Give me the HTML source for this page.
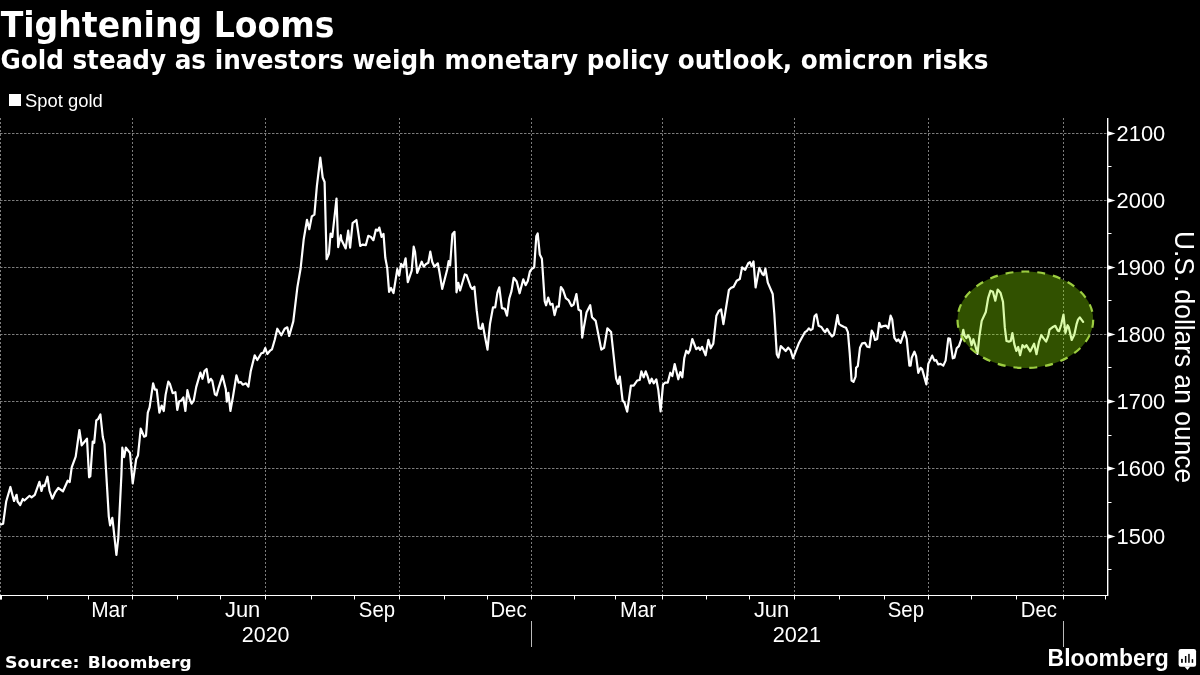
<!DOCTYPE html>
<html><head><meta charset="utf-8"><title>Tightening Looms</title>
<style>
html,body{margin:0;padding:0;background:#000;width:1200px;height:675px;overflow:hidden}
svg{display:block;position:absolute;left:0;top:0;will-change:transform}
.g{stroke:#7c7c7c;stroke-width:1;stroke-dasharray:2.5 1.5;fill:none}
.gv{stroke:#7c7c7c;stroke-width:1;stroke-dasharray:2 2;fill:none}
.ax{stroke:#fff;stroke-width:1;fill:none}
.sep{stroke:#bbb;stroke-width:1}
.pl{fill:none;stroke:#fff;stroke-width:2.2;stroke-linejoin:round;stroke-linecap:round}
.eo{fill:rgba(148,242,0,0.335)}
.eb{fill:none;stroke:#9ccd40;stroke-width:2.2;stroke-dasharray:8 8}
.yl,.xl{font-family:"Liberation Sans",sans-serif;font-size:22.6px;fill:#fff}
.at{font-family:"Liberation Sans",sans-serif;font-size:27.5px;fill:#fff}
.t1{font-family:"DejaVu Sans",sans-serif;font-weight:bold;font-size:34.8px;fill:#fff}
.t2{font-family:"DejaVu Sans",sans-serif;font-weight:bold;font-size:26px;fill:#fff}
.lg{font-family:"Liberation Sans",sans-serif;font-size:18px;fill:#fff}
.src{font-family:"DejaVu Sans",sans-serif;font-weight:bold;font-size:16.7px;fill:#fff}
.logo{font-family:"Liberation Sans",sans-serif;font-weight:bold;font-size:23px;fill:#fff}
</style></head>
<body>
<svg width="1200" height="675" viewBox="0 0 1200 675">
<line x1="0" y1="133.5" x2="1107" y2="133.5" class="g"/>
<line x1="0" y1="200.5" x2="1107" y2="200.5" class="g"/>
<line x1="0" y1="267.5" x2="1107" y2="267.5" class="g"/>
<line x1="0" y1="334.5" x2="1107" y2="334.5" class="g"/>
<line x1="0" y1="401.5" x2="1107" y2="401.5" class="g"/>
<line x1="0" y1="468.5" x2="1107" y2="468.5" class="g"/>
<line x1="0" y1="536.5" x2="1107" y2="536.5" class="g"/>
<line x1="0.5" y1="118" x2="0.5" y2="595" class="gv"/>
<line x1="132.5" y1="118" x2="132.5" y2="595" class="gv"/>
<line x1="265.5" y1="118" x2="265.5" y2="595" class="gv"/>
<line x1="399.5" y1="118" x2="399.5" y2="595" class="gv"/>
<line x1="531.5" y1="118" x2="531.5" y2="595" class="gv"/>
<line x1="662.5" y1="118" x2="662.5" y2="595" class="gv"/>
<line x1="794.5" y1="118" x2="794.5" y2="595" class="gv"/>
<line x1="928.5" y1="118" x2="928.5" y2="595" class="gv"/>
<line x1="1063.5" y1="118" x2="1063.5" y2="595" class="gv"/>
<polyline points="0,524.3 1.6,524.3 3.1,523.8 6.2,501.5 10.4,487 11.4,491 14,501 16.6,494.8 17.6,501.5 20.2,505 22.8,499 24.4,500.5 29.6,495.8 31.6,497.3 34.8,494.8 39.4,481.8 41.5,491 43,485.4 44.6,486 47.4,476.7 49.6,491 52.3,498.7 55,492.7 58.3,488 63,491.3 67.7,480.7 69.7,482 71.7,467.3 75.7,456.7 79.4,430 81.7,445.3 87,438.7 89.1,477.3 90.3,476.1 92.7,441.7 94.2,442.9 96.3,420.4 98,419.2 100.4,414.5 102.8,437 104.5,444.1 108.8,516.6 110.1,525.4 112.3,517.8 113.2,525.4 116.4,555 118.3,538 121.4,475 122.3,447.7 124.1,457.1 125.9,447.7 130,453 132.7,483.5 136.2,459 138,455.4 140.7,428.7 144.2,436.7 146,435.8 147.8,412.7 149.6,407.4 153.1,383.3 154.9,389.6 156.7,389.6 159.4,412.7 161.7,405.6 163.8,411 165.6,394.9 168.3,381.6 170,384.2 172.7,393.1 175.4,392.2 177.3,409.9 179.1,401.6 181.2,400.6 183.3,397.5 185.4,411 187.4,390.2 189.5,398.5 191.6,403.7 193.7,400.6 196.2,387.1 200.4,372.6 202.5,378.8 204.5,371.1 206.6,369 208.7,382.5 210.8,378.8 212.3,380.9 214.9,394.4 216.5,395.4 218.5,388.2 222.5,375.7 225.8,389.2 226.8,401.6 228.4,392.8 230.4,411 233,396.5 236.4,375.3 238.7,382.7 240.7,382 242.7,384.7 246,383.3 248.4,386.7 250.7,371.3 254.7,355.3 257.3,360 261.3,353.3 263.3,352.7 265.3,348 267.3,354 270,350.7 272,349.3 274.7,340 277.3,328.7 281.3,335.3 284.7,328.7 287.3,327.3 289.2,336 293.3,321.4 297.4,287.1 300.6,268.5 303.7,239.4 305,231.8 307,219.8 309.3,229.2 311.8,216.4 314.4,214.7 316.9,185.8 320.3,157.7 322.7,177.5 324.6,182 326.6,259.2 328.9,253.9 330.6,233.5 332.3,236.9 336.5,198.6 338.2,247.1 340.8,235.2 341.3,239.6 345.7,248.4 348.2,230.7 350.1,247.7 352.6,223.2 356.4,220 360.2,245.9 362.7,244.6 365.8,245.2 368.3,235.8 370.9,237 373.4,240.2 375.9,229.5 377.8,230.7 379.3,227.6 381.6,237 383.5,233.9 385.3,257.8 387.2,267.9 389.1,291.8 391,288 393.5,293.1 397.3,269.2 399.2,275.6 401.1,263.9 403.3,267.2 405.6,258.3 407.8,282.2 411.7,270.6 413.7,246.7 415,251.7 417.2,272.8 421.7,261.7 423.7,266.7 426.1,263.9 428.3,262.8 430.3,251.7 432.2,261.7 434.4,266.7 437.8,263.3 439.4,271.7 442.2,288.9 447.2,269.4 448.7,261 450.1,265.5 452.4,234.2 454.5,231.8 455.9,267.4 456.5,292.3 458.3,282.8 460.1,290.5 464.8,274.5 466.6,275.1 470.7,286.9 472.3,289 474.4,286.7 476.7,310.4 478.9,328.1 481.1,328.9 482.6,323.7 484.8,335.6 487.5,349.6 490,323.7 493,307.4 495.2,307.4 497.4,292.6 499.3,287.4 501.9,308.1 504.8,308.9 507,315.6 509.3,298.5 511.5,291.1 513.7,277.8 516.7,281.5 519.6,293.3 523.3,279.3 525.6,285.2 527.8,281 529.9,271.5 532,268.7 534.2,267.3 536.3,236.3 537.7,233.5 539.8,254.6 541.9,258.8 544.7,301.1 546.1,305.3 548.2,297.5 550.4,304.6 552.5,303.9 554.6,315.1 556.7,306.7 558.8,306.7 560.9,287 563,289.8 565.8,298.2 568.7,300.4 571.5,306 573.6,304.6 576.4,294 578.5,309.5 580.9,311 582.2,337.6 583.7,328.3 586.5,312.6 590.2,305.2 592,317.2 595.7,320.9 601.3,349.6 604.1,347.8 607.4,328.3 611.1,332 616.1,378.3 618,383.9 619.8,376.5 622.6,400.6 624.4,402.4 627.2,411.7 630.9,385.7 633.7,385.7 637.2,380.5 639.7,380 641.4,371.3 643.7,377.3 645.7,371.3 647.7,376.7 649.7,383.3 651.7,378.7 653.7,383.3 656.3,379.3 658.3,390 660.6,411.3 663,384.7 665,382.7 667.7,382.7 670.3,372.7 672.3,376 674.7,364 678.3,379.3 680.3,372 682.3,377.3 684.3,358 686.3,350.7 688.3,353.3 690,349.9 692.3,339 696.2,349.1 698.6,347.5 700.1,349.9 702.1,346.8 705.6,355.3 708.4,339.8 710.7,348.3 713.3,343.6 716.4,315.7 718.8,311 721.1,309.4 723.4,324.2 728.9,290 731.2,287.7 733.5,286.9 736.7,280.7 739.8,279.1 742.1,267.4 745.2,269.8 748.3,263.2 749.9,262.2 751.5,266.3 753.5,261.4 755.6,287.5 759.3,267.9 762.6,274.4 763.7,275.2 765.4,268.7 767.8,282.6 772.7,294 774.3,313.5 776.8,354.2 778.4,357.5 780.8,346.1 783.3,348.5 785.7,351 788.2,347.7 790.6,350.2 793,358.3 798.7,343.6 802.5,336.5 805,332.1 806.9,330.8 808.8,328.3 810.7,330.2 812.6,328.9 814.5,316.3 816.4,314.4 818.6,325.8 821.4,327 823.9,330.8 825.2,332.1 827.1,328.9 829.6,333.3 832.1,336.5 834,334.6 835.9,324.5 837.5,315.1 839,323.9 841.6,325.8 844.1,327 846,327.7 847.9,332.1 849.7,352.9 851.6,380.6 853.5,381.8 855.6,376.7 856.1,367.8 857.8,366.1 860,347.8 862.2,343.3 865,342.8 867.2,346.7 869.4,347.2 871.7,330.6 873.3,333.3 875,340 877.2,338.9 879.2,322.8 881.1,327.2 883.3,326.1 886.1,325.6 888.3,328.3 890.6,315.6 892.2,319.4 894.4,337.8 896.7,341.1 898.3,339.4 900.6,342.8 904.4,331.7 906.7,338.9 909.4,365.6 910.6,365.6 911.7,357.8 914.4,351.7 916.1,356.1 918.3,372.8 920.6,367.8 922.2,369.4 926.4,384.4 928.3,363.9 932.2,355.6 934.4,360.6 936.1,360 938.3,364.4 940.6,363.9 943.3,365.6 945.6,360.6 948.3,338.3 950,338.9 952.8,358.3 954.4,357.8 956.7,348.3 958.9,346.1 961.5,338.6 963.3,329.8 964.5,335.7 966.3,338.1 968,335.1 969.8,338.1 971.6,345.2 973.4,339.2 975.7,346.9 977.5,354 979.3,336.9 981.7,320.9 985.8,312 988.2,297.8 990.5,290.7 992.9,291.8 995.3,300.7 997.7,289.5 1000.6,293 1003,301.9 1004.8,327.4 1006.5,341 1008.9,341.6 1010.7,341 1012.4,333.1 1014.3,344.1 1016.3,350.9 1018.2,347 1020.1,355.2 1022.5,345.1 1024.5,347.5 1026.4,345.1 1030.2,351.4 1034.1,343.7 1036.5,354.2 1038.9,342.2 1041.3,335 1043.2,337.9 1046.1,341.7 1048.1,336.4 1049.5,329.7 1052.4,327.3 1055.3,325.8 1057.7,330.6 1059.1,331.1 1061.1,325 1063.5,314.6 1065.4,333 1067.6,325.2 1068.7,327 1071.7,340 1074.3,334.8 1076.5,324.4 1078,319.6 1079.8,317.4 1083.1,321.9" class="pl"/>
<ellipse cx="1025.35" cy="319.75" rx="67.85" ry="48.25" class="eo"/>
<ellipse cx="1025.35" cy="319.75" rx="67.85" ry="48.25" class="eb" pathLength="368"/>
<line x1="1107.7" y1="118" x2="1107.7" y2="596" class="ax" style="stroke-width:1.4"/>
<line x1="0" y1="595.5" x2="1108" y2="595.5" class="ax"/>
<line x1="47.5" y1="595" x2="47.5" y2="599.5" class="ax"/>
<line x1="88.5" y1="595" x2="88.5" y2="599.5" class="ax"/>
<line x1="132.5" y1="595" x2="132.5" y2="599.5" class="ax"/>
<line x1="177.5" y1="595" x2="177.5" y2="599.5" class="ax"/>
<line x1="220.5" y1="595" x2="220.5" y2="599.5" class="ax"/>
<line x1="265.5" y1="595" x2="265.5" y2="599.5" class="ax"/>
<line x1="311.5" y1="595" x2="311.5" y2="599.5" class="ax"/>
<line x1="354.5" y1="595" x2="354.5" y2="599.5" class="ax"/>
<line x1="399.5" y1="595" x2="399.5" y2="599.5" class="ax"/>
<line x1="444.5" y1="595" x2="444.5" y2="599.5" class="ax"/>
<line x1="487.5" y1="595" x2="487.5" y2="599.5" class="ax"/>
<line x1="531.5" y1="595" x2="531.5" y2="599.5" class="ax"/>
<line x1="574.5" y1="595" x2="574.5" y2="599.5" class="ax"/>
<line x1="615.5" y1="595" x2="615.5" y2="599.5" class="ax"/>
<line x1="662.5" y1="595" x2="662.5" y2="599.5" class="ax"/>
<line x1="706.5" y1="595" x2="706.5" y2="599.5" class="ax"/>
<line x1="749.5" y1="595" x2="749.5" y2="599.5" class="ax"/>
<line x1="794.5" y1="595" x2="794.5" y2="599.5" class="ax"/>
<line x1="839.5" y1="595" x2="839.5" y2="599.5" class="ax"/>
<line x1="884.5" y1="595" x2="884.5" y2="599.5" class="ax"/>
<line x1="928.5" y1="595" x2="928.5" y2="599.5" class="ax"/>
<line x1="971.5" y1="595" x2="971.5" y2="599.5" class="ax"/>
<line x1="1016.5" y1="595" x2="1016.5" y2="599.5" class="ax"/>
<line x1="1063.5" y1="595" x2="1063.5" y2="599.5" class="ax"/>
<line x1="1105.5" y1="595" x2="1105.5" y2="599.5" class="ax"/>
<rect x="0" y="595" width="2" height="4.6" fill="#fff"/>
<polygon points="1108,131.3 1115.5,133.5 1108,135.7" fill="#fff"/>
<polygon points="1108,198.3 1115.5,200.5 1108,202.7" fill="#fff"/>
<polygon points="1108,265.3 1115.5,267.5 1108,269.7" fill="#fff"/>
<polygon points="1108,332.3 1115.5,334.5 1108,336.7" fill="#fff"/>
<polygon points="1108,399.3 1115.5,401.5 1108,403.7" fill="#fff"/>
<polygon points="1108,466.3 1115.5,468.5 1108,470.7" fill="#fff"/>
<polygon points="1108,534.3 1115.5,536.5 1108,538.7" fill="#fff"/>
<line x1="1108" y1="166.5" x2="1111.5" y2="166.5" class="ax"/>
<line x1="1108" y1="233.5" x2="1111.5" y2="233.5" class="ax"/>
<line x1="1108" y1="300.5" x2="1111.5" y2="300.5" class="ax"/>
<line x1="1108" y1="367.5" x2="1111.5" y2="367.5" class="ax"/>
<line x1="1108" y1="435.5" x2="1111.5" y2="435.5" class="ax"/>
<line x1="1108" y1="502.5" x2="1111.5" y2="502.5" class="ax"/>
<line x1="1108" y1="569.5" x2="1111.5" y2="569.5" class="ax"/>
<line x1="531.5" y1="621" x2="531.5" y2="647" class="sep"/>
<line x1="1063.5" y1="621" x2="1063.5" y2="647" class="sep"/>
<rect x="9" y="94" width="12" height="12" fill="#fff"/>
<g>
<rect x="1178.6" y="649.1" width="17.5" height="17.7" rx="2.2" fill="#fff"/>
<polygon points="1184.4,666.5 1190.3,666.5 1187.4,670" fill="#fff"/>
<rect x="1181.1" y="658.9" width="1.7" height="3.9" fill="#000"/>
<rect x="1184.9" y="656" width="1.5" height="6.8" fill="#000"/>
<rect x="1188.2" y="653.9" width="1.5" height="8.9" fill="#000"/>
<rect x="1191.7" y="659.1" width="1.5" height="3.7" fill="#000"/>
</g>
<text x="0.68" y="37" class="t1" textLength="333.74" lengthAdjust="spacingAndGlyphs">Tightening Looms</text>
<text x="0.43" y="69.4" class="t2" textLength="988.04" lengthAdjust="spacingAndGlyphs">Gold steady as investors weigh monetary policy outlook, omicron risks</text>
<text x="25.02" y="107" class="lg" textLength="77.72" lengthAdjust="spacingAndGlyphs">Spot gold</text>
<text x="5.04" y="667.5" class="src" textLength="74.35" lengthAdjust="spacingAndGlyphs">Source:</text>
<text x="87.71" y="667.5" class="src" textLength="103.88" lengthAdjust="spacingAndGlyphs">Bloomberg</text>
<text x="1047.6" y="666" class="logo" textLength="121.15" lengthAdjust="spacingAndGlyphs">Bloomberg</text>
<text x="91.13" y="617" class="xl" textLength="35.99" lengthAdjust="spacingAndGlyphs">Mar</text>
<text x="224.96" y="617" class="xl" textLength="35.37" lengthAdjust="spacingAndGlyphs">Jun</text>
<text x="358.87" y="617" class="xl" textLength="36.22" lengthAdjust="spacingAndGlyphs">Sep</text>
<text x="490.48" y="617" class="xl" textLength="36.05" lengthAdjust="spacingAndGlyphs">Dec</text>
<text x="620.12" y="617" class="xl" textLength="36.15" lengthAdjust="spacingAndGlyphs">Mar</text>
<text x="753.88" y="617" class="xl" textLength="35.44" lengthAdjust="spacingAndGlyphs">Jun</text>
<text x="887.76" y="617" class="xl" textLength="36.27" lengthAdjust="spacingAndGlyphs">Sep</text>
<text x="1020.71" y="617" class="xl" textLength="36.19" lengthAdjust="spacingAndGlyphs">Dec</text>
<text x="241.8" y="642" class="xl" textLength="47.71" lengthAdjust="spacingAndGlyphs">2020</text>
<text x="772.68" y="642" class="xl" textLength="48.28" lengthAdjust="spacingAndGlyphs">2021</text>
<text x="1116.6" y="140.5" class="yl" textLength="48.7" lengthAdjust="spacingAndGlyphs">2100</text>
<text x="1116.6" y="207.5" class="yl" textLength="48.7" lengthAdjust="spacingAndGlyphs">2000</text>
<text x="1116.6" y="274.5" class="yl" textLength="48.7" lengthAdjust="spacingAndGlyphs">1900</text>
<text x="1116.6" y="341.5" class="yl" textLength="48.7" lengthAdjust="spacingAndGlyphs">1800</text>
<text x="1116.6" y="408.5" class="yl" textLength="48.7" lengthAdjust="spacingAndGlyphs">1700</text>
<text x="1116.6" y="475.5" class="yl" textLength="48.7" lengthAdjust="spacingAndGlyphs">1600</text>
<text x="1116.6" y="543.5" class="yl" textLength="48.7" lengthAdjust="spacingAndGlyphs">1500</text>
<text transform="translate(1175,231) rotate(90)" class="at" textLength="252.1" lengthAdjust="spacingAndGlyphs">U.S. dollars an ounce</text>
</svg>
</body></html>
